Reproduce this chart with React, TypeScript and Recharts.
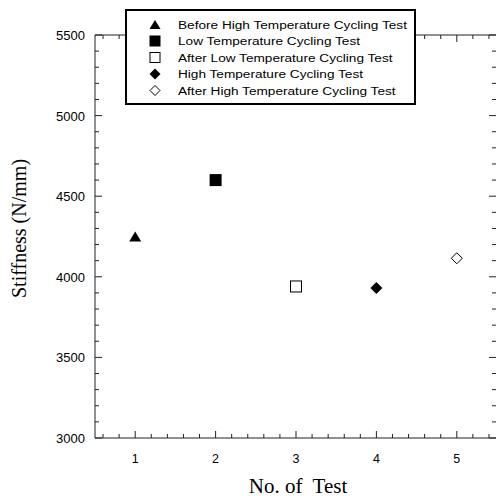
import React from "react";
import {
  ScatterChart,
  Scatter,
  XAxis,
  YAxis,
  Legend,
  Label,
} from "recharts";

// values
const tests = [1, 2, 3, 4, 5];
const stiffness = [4250, 4600, 3940, 3930, 4115];
const seriesNames = [
  "Before High Temperature Cycling Test",
  "Low Temperature Cycling Test",
  "After Low Temperature Cycling Test",
  "High Temperature Cycling Test",
  "After High Temperature Cycling Test",
];
const seriesShapes = ["triangle", "square", "openSquare", "diamond", "openDiamond"];

const xTicks = [1, 2, 3, 4, 5];
const yTicks = [3000, 3500, 4000, 4500, 5000, 5500];

// minor ticks every 0.2 on x and every 100 on y
const xAllTicks: number[] = [];
for (let i = 6; i <= 54; i += 2) xAllTicks.push(i / 10);
const yAllTicks: number[] = [];
for (let v = 3000; v <= 5500; v += 100) yAllTicks.push(v);

const AXIS = "#222";
const SANS = "'Liberation Sans', Arial, sans-serif";
const SERIF = "'Liberation Serif', 'Times New Roman', serif";

const isMajorX = (v: number) => xTicks.some((t) => Math.abs(t - v) < 1e-6);
const isMajorY = (v: number) => yTicks.includes(v);

const drawMarker = (kind: string, cx: number, cy: number, s = 6) => {
  switch (kind) {
    case "triangle":
      return <polygon points={`${cx},${cy - s + 1} ${cx - s},${cy + s - 1} ${cx + s},${cy + s - 1}`} fill="#000" />;
    case "square":
      return <rect x={cx - s} y={cy - s} width={s * 2} height={s * 2} fill="#000" />;
    case "openSquare":
      return <rect x={cx - s + 0.5} y={cy - s + 0.5} width={s * 2 - 1} height={s * 2 - 1} fill="#fff" stroke="#000" strokeWidth={1} />;
    case "diamond":
      return <polygon points={`${cx},${cy - s} ${cx + s},${cy} ${cx},${cy + s} ${cx - s},${cy}`} fill="#000" />;
    default:
      return <polygon points={`${cx},${cy - s + 0.5} ${cx + s - 0.5},${cy} ${cx},${cy + s - 0.5} ${cx - s + 0.5},${cy}`} fill="#fff" stroke="#000" strokeWidth={1} />;
  }
};

const BottomTick = ({ x, y, payload }: any) => {
  const major = isMajorX(payload.value);
  return (
    <g>
      <line x1={x} x2={x} y1={y} y2={y - (major ? 7 : 4)} stroke={AXIS} />
      {major && (
        <text x={x} y={y + 25} textAnchor="middle" fontSize={12.5} fontFamily={SANS} fill="#000">
          {Math.round(payload.value)}
        </text>
      )}
    </g>
  );
};

const TopTick = ({ x, y, payload }: any) => {
  const major = isMajorX(payload.value);
  return <line x1={x} x2={x} y1={y} y2={y + (major ? 7 : 4)} stroke={AXIS} />;
};

const LeftTick = ({ x, y, payload }: any) => {
  const major = isMajorY(payload.value);
  return (
    <g>
      <line x1={x} x2={x + (major ? 7 : 4)} y1={y} y2={y} stroke={AXIS} />
      {major && (
        <text x={x - 10} y={y + 5} textAnchor="end" fontSize={13} fontFamily={SANS} fill="#000">
          {payload.value}
        </text>
      )}
    </g>
  );
};

const RightTick = ({ x, y, payload }: any) => {
  const major = isMajorY(payload.value);
  return <line x1={x - 1} x2={x - 1 - (major ? 7 : 4)} y1={y} y2={y} stroke={AXIS} />;
};

// legend box drawn in the series order of the reference
const renderLegend = () => (
  <svg width={291} height={96} style={{ display: "block" }}>
    <rect x={1} y={1} width={289} height={94} fill="#fff" stroke="#000" strokeWidth={2} />
    {seriesNames.map((name, i) => {
      const cy = 15.5 + i * 16.5;
      return (
        <g key={name}>
          {drawMarker(seriesShapes[i], 30, cy, 5.5)}
          <text
            transform={`translate(53, ${cy + 4}) scale(1.24, 1)`}
            fontSize={11}
            fontFamily={SANS}
            fill="#000"
          >
            {name}
          </text>
        </g>
      );
    })}
  </svg>
);

const App: React.FC = () => {
  return (
    <div style={{ position: "absolute", left: 0, top: 0, width: 496, height: 499, overflow: "hidden", background: "#fff" }}>
      <ScatterChart width={500} height={499} margin={{ top: 34, right: 2, bottom: 0, left: 0 }}>
        <XAxis
          xAxisId="bottom"
          dataKey="test"
          type="number"
          domain={[0.5, 5.5]}
          ticks={xAllTicks}
          interval={0}
          height={61}
          tickSize={0}
          tickMargin={0}
          tickLine={false}
          axisLine={{ stroke: AXIS }}
          tick={<BottomTick />}
          allowDataOverflow
        >
          <Label
            content={({ viewBox }: any) => (
              <text
                x={viewBox.x + viewBox.width / 2 + 2}
                y={viewBox.y + 55}
                textAnchor="middle"
                fontSize={21}
                fontFamily={SERIF}
                fill="#000"
                style={{ whiteSpace: "pre" }}
              >
                {"No. of  Test"}
              </text>
            )}
          />
        </XAxis>
        <XAxis
          xAxisId="top"
          orientation="top"
          dataKey="test"
          type="number"
          domain={[0.5, 5.5]}
          ticks={xAllTicks}
          interval={0}
          height={1}
          tickSize={0}
          tickMargin={0}
          tickLine={false}
          axisLine={{ stroke: AXIS }}
          tick={<TopTick />}
          allowDataOverflow
        />
        <YAxis
          yAxisId="left"
          dataKey="stiffness"
          type="number"
          domain={[3000, 5500]}
          ticks={yAllTicks}
          interval={0}
          width={95}
          tickSize={0}
          tickMargin={0}
          tickLine={false}
          axisLine={{ stroke: AXIS }}
          tick={<LeftTick />}
          allowDataOverflow
        >
          <Label
            content={({ viewBox }: any) => {
              const cx = viewBox.x + 26;
              const cy = viewBox.y + viewBox.height / 2 - 8;
              return (
                <text
                  x={cx}
                  y={cy}
                  transform={`rotate(-90, ${cx}, ${cy})`}
                  textAnchor="middle"
                  fontSize={20}
                  fontFamily={SERIF}
                  fill="#000"
                >
                  Stiffness (N/mm)
                </text>
              );
            }}
          />
        </YAxis>
        <YAxis
          yAxisId="right"
          orientation="right"
          dataKey="stiffness"
          type="number"
          domain={[3000, 5500]}
          ticks={yAllTicks}
          interval={0}
          width={1}
          tickSize={0}
          tickMargin={0}
          tickLine={false}
          axisLine={false}
          tick={<RightTick />}
          allowDataOverflow
        />
        {seriesNames.map((name, i) => (
          <Scatter
            key={name}
            name={name}
            xAxisId="bottom"
            yAxisId="left"
            data={[{ test: tests[i], stiffness: stiffness[i] }]}
            fill="#000"
            isAnimationActive={false}
            shape={(p: any) => drawMarker(seriesShapes[i], p.cx, p.cy)}
          />
        ))}
        <Legend
          layout="vertical"
          align="center"
          verticalAlign="middle"
          wrapperStyle={{ position: "absolute", left: 125, top: 9, width: 291, height: 96 }}
          content={renderLegend}
        />
      </ScatterChart>
    </div>
  );
};

export default App;
